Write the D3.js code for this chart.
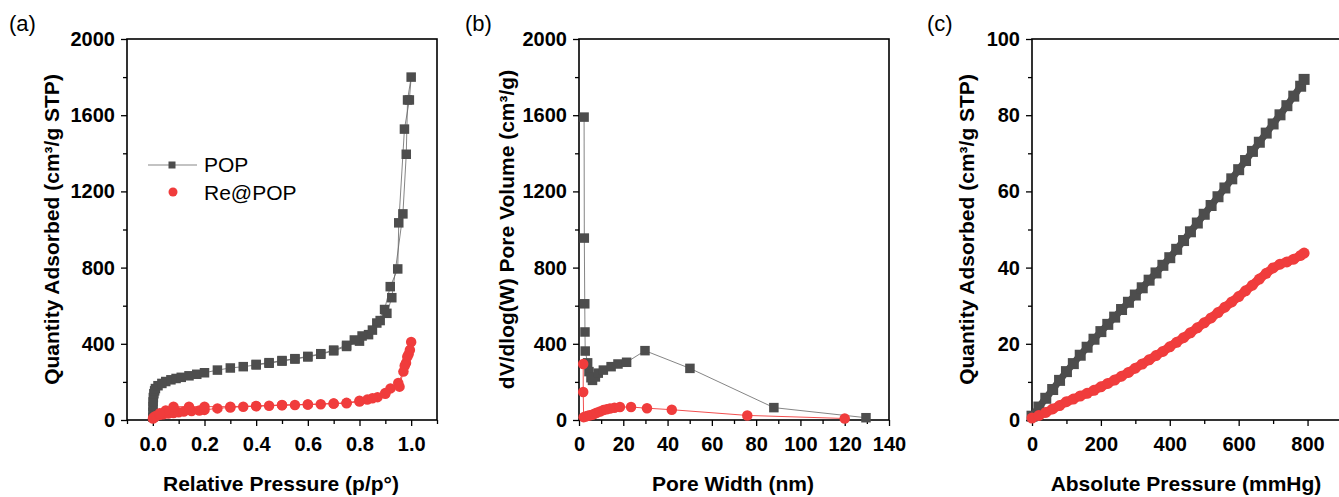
<!DOCTYPE html>
<html>
<head>
<meta charset="utf-8">
<script src="https://cdn.jsdelivr.net/npm/d3@7"></script>
<style>
  body { margin: 0; background: #fff; }
  text { font-family: Arial, "Liberation Sans", sans-serif; }
</style>
</head>
<body>
<div id="chart"></div>
<script>
// (a) N2 isotherm, [p/p0, quantity]
const popIso = [
  [0.0002, 15], [0.0004, 42], [0.0007, 70], [0.001, 95], [0.002, 118], [0.004, 138], [0.007, 153],
  [0.01, 165], [0.02, 180], [0.035, 192], [0.05, 202], [0.07, 211], [0.09, 218], [0.11, 224],
  [0.14, 232], [0.17, 240], [0.2, 248], [0.25, 262], [0.3, 273], [0.35, 280], [0.4, 289],
  [0.45, 298], [0.5, 309], [0.55, 320], [0.6, 331], [0.65, 345], [0.7, 363], [0.75, 386],
  [0.8, 414], [0.835, 448], [0.867, 509], [0.897, 580], [0.919, 700], [0.948, 793], [0.952, 1035],
  [0.974, 1527], [0.993, 1680], [1.0, 1800],
  [0.986, 1680], [0.981, 1395], [0.968, 1082], [0.925, 642], [0.906, 560], [0.88, 522],
  [0.85, 472], [0.81, 441], [0.78, 420], [0.75, 392], [0.7, 367], [0.65, 348], [0.6, 334],
  [0.55, 322], [0.5, 312], [0.45, 301], [0.4, 292]
];
const reIso = [
  [0.0005, 8], [0.003, 13], [0.008, 18], [0.015, 22], [0.027, 27], [0.04, 30], [0.06, 34],
  [0.08, 37], [0.1, 41], [0.12, 44], [0.15, 47], [0.18, 50], [0.2, 53], [0.25, 61], [0.3, 66],
  [0.35, 70], [0.4, 72], [0.45, 75], [0.5, 77], [0.55, 79], [0.6, 81], [0.65, 83], [0.7, 86],
  [0.75, 88], [0.8, 97], [0.83, 107], [0.87, 120], [0.9, 142], [0.92, 166], [0.95, 194],
  [0.97, 254], [0.98, 299], [0.99, 345], [1.0, 409],
  [0.995, 367], [0.985, 332], [0.975, 285], [0.955, 175], [0.9, 138], [0.85, 114], [0.8, 101],
  [0.75, 90], [0.7, 87], [0.6, 82], [0.5, 79], [0.4, 74], [0.3, 70], [0.2, 70], [0.14, 70],
  [0.08, 70], [0.05, 50], [0.027, 35]
];

// (b) pore size distribution, [width nm, dV/dlog(W)]
const popPsd = [
  [2.3, 1590], [2.4, 955], [2.6, 610], [2.7, 462], [2.8, 362], [3.9, 300], [4.5, 254], [5.4, 222],
  [6.1, 208], [7.4, 226], [8.7, 246], [11.0, 262], [14.5, 280], [17.6, 294], [21.5, 303],
  [29.8, 364], [50.1, 271], [88.0, 65], [129.6, 12]
];
const rePsd = [
  [1.9, 294], [1.9, 147], [2.1, 15], [3, 18], [4, 22], [5, 25], [6, 28], [7, 33], [8, 38],
  [9.5, 45], [11, 52], [12.5, 56], [14, 60], [16, 64], [18.5, 68], [23.5, 68], [30.7, 62],
  [41.9, 54], [76, 24], [120, 8]
];

// (c) CO2 isotherm, absolute pressure (mmHg)
const pressC = [0, 20, 40, 60, 80, 100, 120, 140, 160, 180, 200, 220, 240, 260, 280, 300, 320, 340,
  360, 380, 400, 420, 440, 460, 480, 500, 520, 540, 560, 580, 600, 620, 640, 660, 680, 700, 720,
  740, 760, 780, 790];
const popC = [1.0, 3.4, 5.7, 8.0, 10.4, 12.7, 14.8, 17.0, 19.1, 21.2, 23.2, 25.1, 27.0, 29.0, 30.9,
  32.8, 34.7, 36.7, 38.6, 40.6, 42.6, 44.8, 47.1, 49.4, 51.7, 54.0, 56.3, 58.6, 60.9, 63.3, 65.7,
  68.1, 70.5, 72.9, 75.3, 77.7, 80.1, 82.5, 85.0, 87.6, 89.4];
const reC = [0.5, 1.2, 2.0, 2.9, 3.8, 4.8, 5.5, 6.3, 7.0, 7.8, 8.7, 9.6, 10.5, 11.5, 12.5, 13.6,
  14.7, 15.8, 16.9, 18.0, 19.2, 20.4, 21.6, 22.9, 24.2, 25.5, 26.8, 28.2, 29.6, 31.0, 32.4, 33.9,
  35.4, 37.0, 38.5, 39.9, 40.9, 41.5, 42.2, 43.2, 43.8];

const gray = "#4d4d4d";
const red = "#f03c3c";

const svg = d3.select("#chart").append("svg")
  .attr("width", 1339)
  .attr("height", 497);

const plotTop = 39, plotBottom = 420, plotW = 310;

function drawPanel(cfg) {
  const g = svg.append("g");
  const x = d3.scaleLinear().domain(cfg.xDomain).range([cfg.left, cfg.left + plotW]);
  const y = d3.scaleLinear().domain(cfg.yDomain).range([plotBottom, plotTop]);

  // minor ticks
  g.append("g").attr("transform", `translate(0,${plotBottom})`)
    .call(d3.axisBottom(x).tickValues(cfg.xMinor).tickSize(4).tickFormat(""))
    .call(a => a.select(".domain").remove());
  g.append("g").attr("transform", `translate(${cfg.left},0)`)
    .call(d3.axisLeft(y).tickValues(cfg.yMinor).tickSize(4).tickFormat(""))
    .call(a => a.select(".domain").remove());

  // major ticks
  const xa = g.append("g").attr("transform", `translate(0,${plotBottom})`)
    .call(d3.axisBottom(x).tickValues(cfg.xMajor).tickSize(6).tickPadding(11).tickFormat(cfg.xFormat));
  const ya = g.append("g").attr("transform", `translate(${cfg.left},0)`)
    .call(d3.axisLeft(y).tickValues(cfg.yMajor).tickSize(6).tickPadding(6).tickFormat(d3.format("d")));
  [xa, ya].forEach(a => {
    a.select(".domain").remove();
    a.selectAll("text").style("font-size", "20px").style("font-weight", "bold").attr("fill", "#000");
  });
  g.selectAll(".tick line").attr("stroke", "#000").attr("stroke-width", 1.3);

  // frame
  g.append("rect")
    .attr("x", cfg.left).attr("y", plotTop)
    .attr("width", plotW).attr("height", plotBottom - plotTop)
    .attr("fill", "none").attr("stroke", "#000").attr("stroke-width", 1.6);

  // titles
  g.append("text")
    .attr("x", cfg.left + plotW / 2 - 1).attr("y", 491)
    .attr("text-anchor", "middle")
    .style("font-size", "21px").style("font-weight", "bold")
    .text(cfg.xTitle);
  g.append("text")
    .attr("transform", `translate(${cfg.yTitleX},${(plotTop + plotBottom) / 2}) rotate(-90)`)
    .attr("text-anchor", "middle").attr("dy", "0.36em")
    .style("font-size", "21px").style("font-weight", "bold")
    .text(cfg.yTitle);
  g.append("text")
    .attr("x", cfg.labelX).attr("y", 31)
    .style("font-size", "22px")
    .text(cfg.label);

  const line = d3.line().x(d => x(d[0])).y(d => y(d[1]));
  const plot = g.append("g");
  cfg.series.forEach(s => {
    plot.append("path").datum(s.data)
      .attr("d", line)
      .attr("fill", "none")
      .attr("stroke", s.lineColor)
      .attr("stroke-width", s.lineWidth || 1)
      .attr("opacity", s.lineOpacity);
  });
  cfg.series.forEach(s => {
    if (s.shape === "square") {
      plot.selectAll(null).data(s.data).enter().append("rect")
        .attr("x", d => x(d[0]) - s.size / 2)
        .attr("y", d => y(d[1]) - s.size / 2)
        .attr("width", s.size).attr("height", s.size)
        .attr("fill", s.color);
    } else {
      plot.selectAll(null).data(s.data).enter().append("circle")
        .attr("cx", d => x(d[0])).attr("cy", d => y(d[1]))
        .attr("r", s.size / 2)
        .attr("fill", s.color);
    }
  });
  return { x, y, g };
}

const range = (a, b, s) => d3.range(a, b + s / 2, s);

const pa = drawPanel({
  left: 127, label: "(a)", labelX: 9,
  xDomain: [-0.1, 1.1], xMajor: range(0, 1, 0.2), xMinor: range(-0.1, 1.1, 0.2),
  xFormat: d3.format(".1f"),
  yDomain: [0, 2000], yMajor: range(0, 2000, 400), yMinor: range(200, 1800, 400),
  xTitle: "Relative Pressure (p/p°)", yTitle: "Quantity Adsorbed (cm³/g STP)", yTitleX: 51,
  series: [
    { data: popIso, shape: "square", size: 9.5, color: gray, lineColor: "#666", lineOpacity: 0.8 },
    { data: reIso, shape: "circle", size: 10.5, color: red, lineColor: red, lineOpacity: 0.9 }
  ]
});

drawPanel({
  left: 579, label: "(b)", labelX: 465,
  xDomain: [0, 140], xMajor: range(0, 140, 20), xMinor: range(10, 130, 20),
  xFormat: d3.format("d"),
  yDomain: [0, 2000], yMajor: range(0, 2000, 400), yMinor: range(200, 1800, 400),
  xTitle: "Pore Width (nm)", yTitle: "dV/dlog(W) Pore Volume (cm³/g)", yTitleX: 506,
  series: [
    { data: popPsd, shape: "square", size: 9.5, color: gray, lineColor: "#666", lineOpacity: 0.8 },
    { data: rePsd, shape: "circle", size: 10.5, color: red, lineColor: red, lineOpacity: 0.9 }
  ]
});

drawPanel({
  left: 1032, label: "(c)", labelX: 927,
  xDomain: [0, 900], xMajor: range(0, 800, 200), xMinor: range(100, 900, 200),
  xFormat: d3.format("d"),
  yDomain: [0, 100], yMajor: range(0, 100, 20), yMinor: range(10, 90, 20),
  xTitle: "Absolute Pressure (mmHg)", yTitle: "Quantity Adsorbed (cm³/g STP)", yTitleX: 966,
  series: [
    { data: pressC.map((p, i) => [p, popC[i]]), shape: "square", size: 11, color: gray, lineColor: gray, lineOpacity: 1, lineWidth: 7 },
    { data: pressC.map((p, i) => [p, reC[i]]), shape: "circle", size: 11, color: red, lineColor: red, lineOpacity: 1, lineWidth: 9 }
  ]
});

// legend in panel (a)
const legend = pa.g.append("g");
legend.append("line").attr("x1", 148).attr("x2", 197).attr("y1", 165).attr("y2", 165)
  .attr("stroke", "#888").attr("stroke-width", 1.2);
legend.append("rect").attr("x", 168.5).attr("y", 161.5).attr("width", 7).attr("height", 7).attr("fill", gray);
legend.append("circle").attr("cx", 173).attr("cy", 192).attr("r", 4.5).attr("fill", red);
legend.append("text").attr("x", 204).attr("y", 172).style("font-size", "21px").text("POP");
legend.append("text").attr("x", 204).attr("y", 200).style("font-size", "21px").text("Re@POP");
</script>
</body>
</html>
